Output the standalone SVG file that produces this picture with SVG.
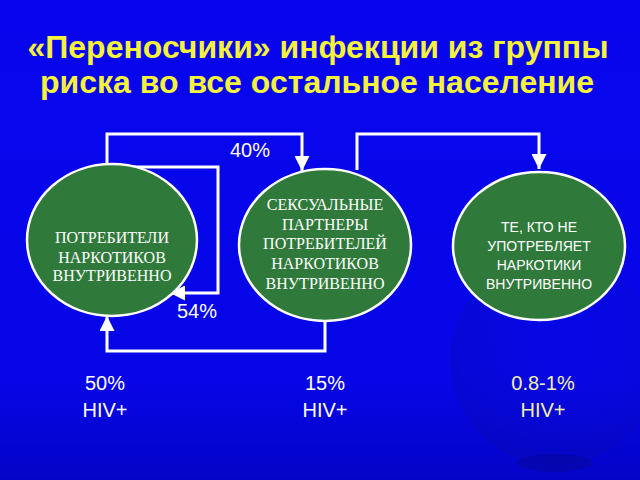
<svg xmlns="http://www.w3.org/2000/svg" width="640" height="480" viewBox="0 0 640 480">
<defs>
<linearGradient id="bg" x1="0" y1="0" x2="0" y2="1">
<stop offset="0" stop-color="#0805ee"/>
<stop offset="0.8" stop-color="#0606e6"/>
<stop offset="1" stop-color="#0404c8"/>
</linearGradient>
<radialGradient id="globe" cx="0.6" cy="0.4" r="0.6">
<stop offset="0" stop-color="#0c10d8" stop-opacity="0.2"/>
<stop offset="1" stop-color="#0a0aa8" stop-opacity="0.8"/>
</radialGradient>
<marker id="ah" viewBox="0 0 10 10" refX="10" refY="5" markerWidth="5" markerHeight="5" orient="auto" markerUnits="strokeWidth">
<path d="M0,0 L10,5 L0,10 Z" fill="#ffffff"/>
</marker>
<style>
.t{font-family:"Liberation Sans",Arial,sans-serif;font-weight:bold;font-size:32px;fill:#f5f23a;text-anchor:middle}
.n{fill:#2f7a3b;stroke:#ffffff;stroke-width:2.5}
.ns{font-family:"Liberation Serif","Times New Roman",serif;font-size:16px;fill:#ffffff;text-anchor:middle}
.na{font-family:"Liberation Sans",Arial,sans-serif;font-size:14px;fill:#ffffff;text-anchor:middle}
.c{fill:none;stroke:#ffffff;stroke-width:3;marker-end:url(#ah)}
.l{font-family:"Liberation Sans",Arial,sans-serif;font-size:20px;fill:#ffffff;text-anchor:middle}
</style>
</defs>
<rect width="640" height="480" fill="url(#bg)"/>
<circle cx="555" cy="360" r="105" fill="url(#globe)" opacity="0.35"/>
<ellipse cx="555" cy="463" rx="38" ry="9" fill="#0606a0" opacity="0.6"/>
<g id="title">
<text class="t" x="318" y="58">«Переносчики» инфекции из группы</text>
<text class="t" x="317" y="93">риска во все остальное население</text>
</g>
<g id="connectors">
<path class="c" d="M107,166 V134 H302 V171"/>
<path class="c" d="M127,167 H218 V293 H170"/>
<path class="c" d="M325,321 V351 H107 V316"/>
<path class="c" d="M357,170 V134 H539 V169"/>
</g>
<g id="node1">
<ellipse class="n" cx="112" cy="240" rx="85" ry="76"/>
<text class="ns" x="112" y="243">ПОТРЕБИТЕЛИ</text>
<text class="ns" x="112" y="263">НАРКОТИКОВ</text>
<text class="ns" x="112" y="281">ВНУТРИВЕННО</text>
</g>
<g id="node2">
<ellipse class="n" cx="325" cy="245" rx="86" ry="76"/>
<text class="ns" x="325" y="210">СЕКСУАЛЬНЫЕ</text>
<text class="ns" x="325" y="230">ПАРТНЕРЫ</text>
<text class="ns" x="325" y="249">ПОТРЕБИТЕЛЕЙ</text>
<text class="ns" x="325" y="269">НАРКОТИКОВ</text>
<text class="ns" x="325" y="289">ВНУТРИВЕННО</text>
</g>
<g id="node3">
<ellipse class="n" cx="539" cy="246" rx="86" ry="74"/>
<text class="na" x="539" y="232">ТЕ, КТО НЕ</text>
<text class="na" x="539" y="251">УПОТРЕБЛЯЕТ</text>
<text class="na" x="539" y="270">НАРКОТИКИ</text>
<text class="na" x="539" y="289">ВНУТРИВЕННО</text>
</g>
<g id="labels">
<text class="l" x="250" y="157">40%</text>
<text class="l" x="197" y="318">54%</text>
<text class="l" x="105" y="390">50%</text>
<text class="l" x="105" y="417">HIV+</text>
<text class="l" x="325" y="390">15%</text>
<text class="l" x="325" y="417">HIV+</text>
<text class="l" x="543" y="390" style="fill:#f2f0a8">0.8-1%</text>
<text class="l" x="543" y="417" style="fill:#f2f0a8">HIV+</text>
</g>
</svg>
